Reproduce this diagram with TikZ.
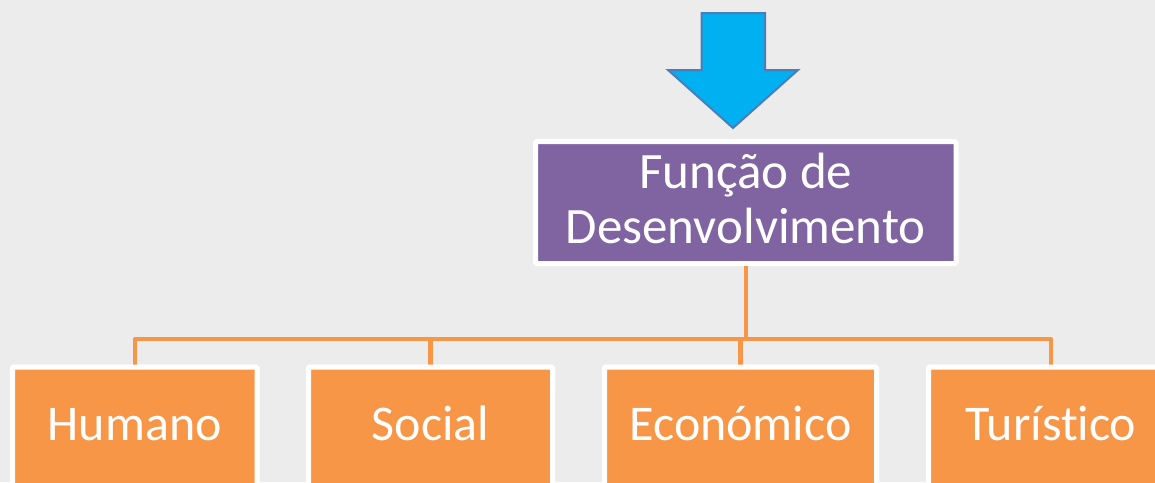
\documentclass[tikz,border=0pt]{standalone}
\usepackage{fontspec}
\setmainfont{Carlito}[Ligatures={NoCommon}]
\definecolor{bgc}{HTML}{EBECEB}
\definecolor{orng}{HTML}{F79646}
\definecolor{purp}{HTML}{8064A2}
\definecolor{arrfill}{HTML}{00B0F0}
\definecolor{arrline}{HTML}{4A7EBB}
\tikzset{
  box/.style={draw=white, line width=5pt, rounded corners=1.5pt, inner sep=0pt, anchor=north},
  obox/.style={box, fill=orng, minimum height=200pt},
  lbl/.style={text=white, font=\fontsize{50}{60}\selectfont, anchor=base, inner sep=0pt},
  conn/.style={draw=orng, line width=4.5pt, line join=round},
}
\begin{document}
\begin{tikzpicture}[x=1pt,y=-1pt]
\useasboundingbox (0,0) rectangle (1155,482);
\clip (0,0) rectangle (1155,482);
\fill[bgc] (0,0) rectangle (1155,482);
% arrow
\draw[fill=arrfill, draw=arrline, line width=2pt, line join=miter]
  (701.5,13) -- (765,13) -- (765,70) -- (798,70) -- (733,128) -- (668,70) -- (701.5,70) -- cycle;
% purple box
\node[box, fill=purp, anchor=center, minimum width=420.5pt, minimum height=122pt,
      text=white, align=center, font=\fontsize{51}{55}\selectfont, text depth=8pt]
  (p) at (745.75,202.5) {Função de\\Desenvolvimento};
% bus coordinate
\coordinate (bus) at (745.75,339);
% orange boxes
\node[obox, minimum width=244.5pt] (h) at (134.75,364.5) {};
\node[obox, minimum width=244pt] (s) at (430.5,364.5) {};
\node[obox, minimum width=272pt] (e) at (740.5,364.5) {};
\node[obox, minimum width=245pt] (t) at (1051,364.5) {};
% connectors
\draw[conn] (p.south) -- (bus);
\draw[conn] (bus) -| (h.north);
\draw[conn] (bus) -| (s.north);
\draw[conn] (bus) -| (e.north);
\draw[conn] (bus) -| (t.north);
% boxes again on top of connector ends
\node[obox, minimum width=244.5pt] at (134.75,364.5) {};
\node[obox, minimum width=244pt] at (430.5,364.5) {};
\node[obox, minimum width=272pt] at (740.5,364.5) {};
\node[obox, minimum width=245pt] at (1051,364.5) {};
% labels
\node[lbl] (hl) at (134.75,440) {Humano};
\node[lbl] (sl) at (430.5,440) {Social};
\node[lbl] (el) at (740.5,440) {Económico};
\node[lbl] (tl) at (1051,440) {Turístico};
\end{tikzpicture}
\end{document}
